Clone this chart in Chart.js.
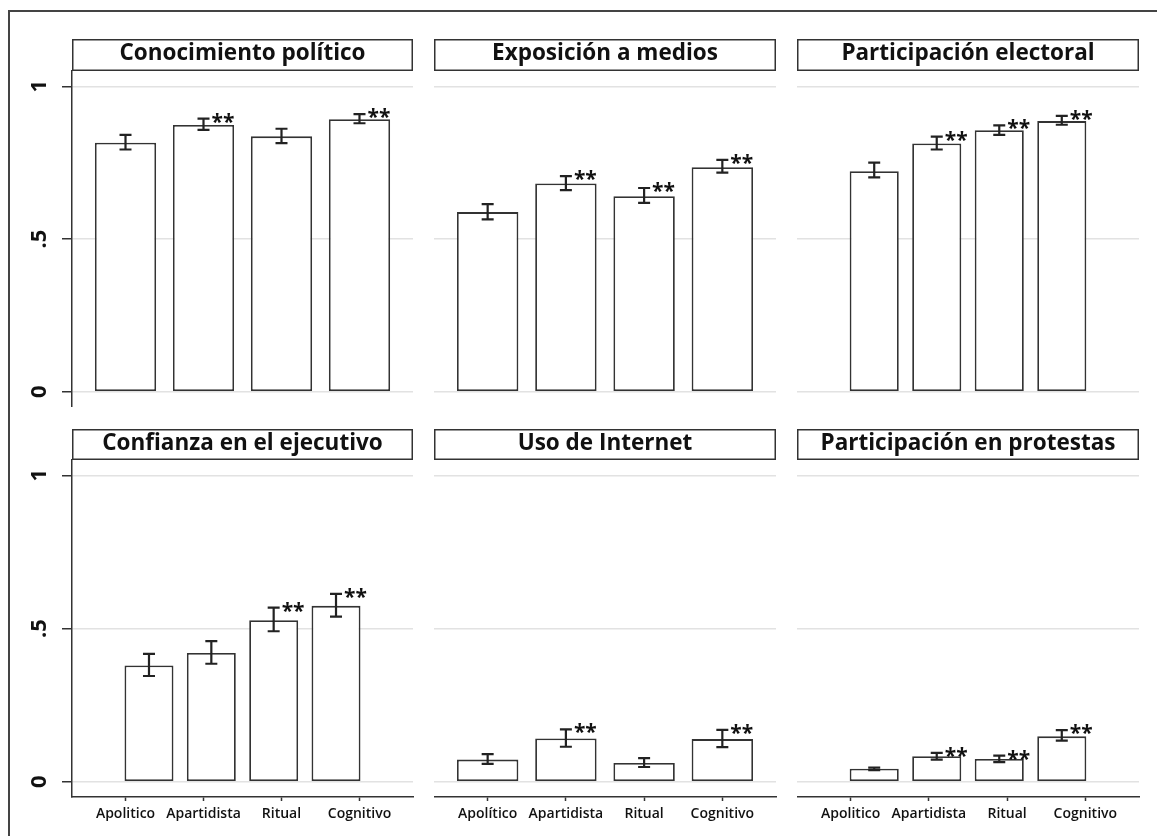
<!DOCTYPE html>
<html>
<head>
<meta charset="utf-8">
<script src="https://cdn.jsdelivr.net/npm/chart.js@4.4.1/dist/chart.umd.min.js"></script>
<style>
  html, body { margin: 0; padding: 0; background: #fff; }
  body { width: 1157px; height: 836px; position: relative; overflow: hidden; font-family: "Open Sans", sans-serif; }
  .frame { position: absolute; left: 8px; top: 10px; right: -4px; bottom: -4px; border-left: 2px solid #444; border-top: 2px solid #444; }
  .panel { position: absolute; }
</style>
</head>
<body>
<div class="frame"></div>
<div id="app"></div>
<script>
const TITLES = [
  "Conocimiento político", "Exposición a medios", "Participación electoral",
  "Confianza en el ejecutivo", "Uso de Internet", "Participación en protestas",
];
const CATEGORIES = ["Apolitico", "Apartidista", "Ritual", "Cognitivo"];
const CATEGORIES_ACCENT = ["Apolítico", "Apartidista", "Ritual", "Cognitivo"];
const Y_TICKS = [0, 0.5, 1];
const Y_TICK_LABELS = ["0", ".5", "1"];

const MEANS = [
  [0.815, 0.873, 0.836, 0.892],
  [0.588, 0.682, 0.640, 0.735],
  [0.722, 0.813, 0.856, 0.886],
  [0.379, 0.420, 0.527, 0.574],
  [0.072, 0.141, 0.061, 0.139],
  [0.042, 0.083, 0.074, 0.148],
];
const CI_LOW = [
  [0.793, 0.857, 0.814, 0.879],
  [0.564, 0.660, 0.618, 0.717],
  [0.702, 0.793, 0.841, 0.874],
  [0.345, 0.385, 0.491, 0.539],
  [0.058, 0.114, 0.048, 0.113],
  [0.038, 0.072, 0.064, 0.134],
];
const CI_HIGH = [
  [0.841, 0.894, 0.861, 0.909],
  [0.614, 0.706, 0.667, 0.759],
  [0.750, 0.835, 0.872, 0.903],
  [0.417, 0.459, 0.568, 0.613],
  [0.090, 0.171, 0.077, 0.169],
  [0.046, 0.094, 0.085, 0.168],
];
const SIGNIF = [
  [0, 1, 0, 1],
  [0, 1, 1, 1],
  [0, 1, 1, 1],
  [0, 0, 1, 1],
  [0, 1, 0, 1],
  [0, 1, 1, 1],
];
const SIG_MARK = "**";

// layout of the 2x3 grid (pixels on the page)
const COLS = [{ left: 72, right: 413 }, { left: 434, right: 776 }, { left: 797, right: 1139 }];
const ROWS = [
  { titleTop: 39, plotTop: 71, plotBottom: 407, bottom: 407 },
  { titleTop: 429, plotTop: 460, plotBottom: 797, bottom: 836 },
];
const Y_AXIS_W = 63;
const LABEL_RANGE = [0.314, 4.686];
const WIDE_RANGE = [0.314, 4.686];
const NARROW_RANGE = [-0.235, 5.235];
const PANELS = [
  { row: 0, col: 0, bars: WIDE_RANGE },
  { row: 0, col: 1, bars: WIDE_RANGE },
  { row: 0, col: 2, bars: NARROW_RANGE },
  { row: 1, col: 0, bars: NARROW_RANGE, labels: CATEGORIES },
  { row: 1, col: 1, bars: WIDE_RANGE, labels: CATEGORIES_ACCENT },
  { row: 1, col: 2, bars: NARROW_RANGE, labels: CATEGORIES },
];

const INK = "#222";
const GRID = "#e2e2e2";

const panelDecor = {
  id: "panelDecor",
  afterDatasetsDraw(chart, args, opts) {
    const { ctx } = chart;
    const y = chart.scales.y;
    const meta = chart.getDatasetMeta(0);
    ctx.save();
    ctx.strokeStyle = INK;
    ctx.lineWidth = 2.2;
    ctx.fillStyle = "#111";
    ctx.font = "700 21px 'Open Sans'";
    ctx.textAlign = "left";
    ctx.textBaseline = "alphabetic";
    meta.data.forEach((bar, i) => {
      const lo = y.getPixelForValue(opts.low[i]);
      const hi = y.getPixelForValue(opts.high[i]);
      ctx.beginPath();
      ctx.moveTo(bar.x, lo); ctx.lineTo(bar.x, hi);
      ctx.moveTo(bar.x - 6, lo); ctx.lineTo(bar.x + 6, lo);
      ctx.moveTo(bar.x - 6, hi); ctx.lineTo(bar.x + 6, hi);
      ctx.stroke();
      if (opts.sig[i]) ctx.fillText(SIG_MARK, bar.x + 8, hi + 10);
    });
    const t = chart.titleBlock;
    ctx.strokeStyle = "#333";
    ctx.lineWidth = 1.5;
    ctx.strokeRect(t.left + 0.75, t.top + 0.75, t.width - 1.5, t.height - 1.5);
    ctx.restore();
  },
};

function makePanel(p, idx) {
  const row = ROWS[p.row];
  const col = COLS[p.col];
  const isLeft = p.col === 0;
  const left = isLeft ? col.left - Y_AXIS_W : col.left;
  const padRight = 4;

  const wrap = document.createElement("div");
  wrap.className = "panel";
  wrap.style.left = left + "px";
  wrap.style.top = row.titleTop + "px";
  wrap.style.width = (col.right - left + padRight) + "px";
  wrap.style.height = (row.bottom - row.titleTop) + "px";
  const canvas = document.createElement("canvas");
  wrap.appendChild(canvas);
  document.getElementById("app").appendChild(wrap);

  const titleH = row.plotTop - row.titleTop;
  const xAxisH = row.bottom - row.plotBottom;
  const fourTicks = (axis) => { axis.ticks = CATEGORIES.map((_, i) => ({ value: i + 1 })); };

  new Chart(canvas, {
    type: "bar",
    data: {
      datasets: [{
        xAxisID: "xb",
        yAxisID: "y",
        data: MEANS[idx].map((v, i) => ({ x: i + 1, y: v })),
        backgroundColor: "#fff",
        borderColor: "#333",
        borderWidth: 1.8,
        borderSkipped: false,
        categoryPercentage: 1,
        barPercentage: 0.785,
      }],
    },
    options: {
      responsive: true,
      maintainAspectRatio: false,
      animation: false,
      devicePixelRatio: 1,
      layout: { autoPadding: false, padding: { left: 0, right: padRight, top: 0, bottom: 0 } },
      plugins: {
        legend: { display: false },
        tooltip: { enabled: false },
        title: {
          display: true,
          text: TITLES[idx],
          fullSize: false,
          color: "#111",
          font: { family: "'Open Sans'", size: 22.5, weight: "700", lineHeight: (titleH - 6) + "px" },
          padding: { top: 2, bottom: 4 },
        },
        panelDecor: { low: CI_LOW[idx], high: CI_HIGH[idx], sig: SIGNIF[idx] },
      },
      scales: {
        xb: {
          type: "linear",
          axis: "x",
          display: false,
          offset: false,
          grid: { offset: false },
          min: p.bars[0],
          max: p.bars[1],
          afterBuildTicks: fourTicks,
        },
        x: {
          type: "linear",
          position: "bottom",
          display: !!p.labels,
          offset: false,
          min: LABEL_RANGE[0],
          max: LABEL_RANGE[1],
          afterBuildTicks: fourTicks,
          afterFit: (axis) => { axis.height = p.labels ? xAxisH : 0; axis.paddingLeft = 0; axis.paddingRight = 0; },
          grid: { offset: false, drawOnChartArea: false, drawTicks: true, tickLength: 4, tickColor: "#333", tickWidth: 1.5 },
          border: { display: true, color: "#333", width: 1.5 },
          ticks: {
            autoSkip: false,
            maxRotation: 0,
            padding: 5,
            color: "#111",
            font: { family: "'Open Sans'", size: 14, weight: "600" },
            callback: (v) => (p.labels ? p.labels[Math.round(v) - 1] : ""),
          },
        },
        y: {
          type: "linear",
          position: "left",
          min: -0.05,
          max: 1.05,
          afterBuildTicks: (axis) => { axis.ticks = Y_TICKS.map((v) => ({ value: v })); },
          afterFit: (axis) => { axis.width = isLeft ? Y_AXIS_W : 0; axis.paddingTop = 0; axis.paddingBottom = 0; },
          grid: { color: GRID, lineWidth: 1.5, drawTicks: isLeft, tickLength: 10, tickColor: "#333", tickWidth: 1.5 },
          border: { display: isLeft, color: "#333", width: 1.5 },
          ticks: {
            display: isLeft,
            minRotation: 90,
            maxRotation: 90,
            crossAlign: "center",
            padding: 13,
            color: "#111",
            font: { family: "'Open Sans'", size: 22, weight: "700" },
            callback: (v) => Y_TICK_LABELS[Y_TICKS.indexOf(v)],
          },
        },
      },
    },
    plugins: [panelDecor],
  });
}

PANELS.forEach(makePanel);
</script>
</body>
</html>
